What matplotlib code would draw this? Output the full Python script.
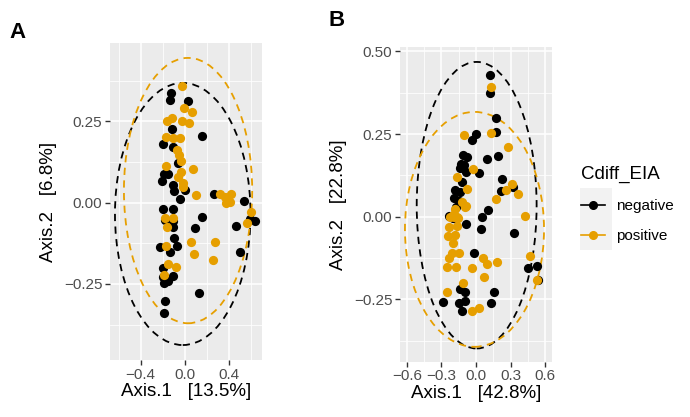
import matplotlib
matplotlib.use("Agg")
import matplotlib.pyplot as plt
from matplotlib.patches import Ellipse, Rectangle
from matplotlib.lines import Line2D
from matplotlib.ticker import FixedLocator

plt.rcParams['font.family'] = ['Liberation Sans', 'DejaVu Sans']

BLACK = "#000000"
ORANGE = "#E69F00"

# panel A (Axis.1 13.5%, Axis.2 6.8%)
a_neg_x = [-0.13, -0.135, 0.024, 0.15, -0.12, -0.196, -0.106, -0.06, -0.19, -0.15,
           -0.21, -0.106, -0.10, 0.0, -0.045, 0.26, 0.53, -0.196, -0.106, -0.18,
           -0.106, -0.106, 0.15, 0.09, 0.587, 0.63, 0.46, -0.10, -0.226, -0.07,
           -0.135, 0.496, -0.20, -0.106, -0.196, -0.15, -0.19, 0.13, -0.18, -0.19]
a_neg_y = [0.337, 0.316, 0.313, 0.205, 0.227, 0.18, 0.172, 0.121, 0.087, 0.087,
           0.067, 0.054, 0.036, 0.039, 0.011, 0.026, 0.005, -0.019, -0.019, -0.053,
           -0.058, -0.074, -0.043, -0.079, -0.05, -0.056, -0.071, -0.108, -0.138, -0.132,
           -0.153, -0.153, -0.2, -0.225, -0.23, -0.24, -0.248, -0.279, -0.302, -0.34]
a_pos_x = [-0.025, -0.01, 0.06, -0.165, -0.115, -0.03, 0.04, -0.17, -0.106, -0.045,
           -0.07, -0.05, -0.036, -0.17, 0.075, -0.04, -0.06, -0.015, -0.02, 0.10,
           0.316, 0.36, 0.42, 0.41, 0.37, -0.18, -0.106, -0.165, 0.596, 0.562,
           -0.17, 0.05, 0.08, 0.27, 0.256, -0.15, -0.08, -0.19]
a_pos_y = [0.36, 0.29, 0.278, 0.25, 0.26, 0.25, 0.246, 0.203, 0.198, 0.198,
           0.162, 0.147, 0.128, 0.114, 0.103, 0.095, 0.08, 0.06, 0.049, 0.022,
           0.026, 0.018, 0.026, 0.003, -0.002, -0.048, -0.046, -0.074, -0.03, -0.063,
           -0.132, -0.12, -0.158, -0.12, -0.176, -0.19, -0.197, -0.222]

# panel B (Axis.1 42.8%, Axis.2 22.8%)
b_neg_x = [0.121, 0.121, 0.173, 0.173, 0.0, -0.037, -0.11, -0.08, 0.093, 0.188,
           -0.13, -0.10, -0.139, -0.09, 0.029, -0.124, 0.228, 0.214, 0.324, -0.182,
           -0.139, -0.188, -0.145, -0.173, 0.107, -0.232, -0.197, 0.055, -0.087, 0.043,
           0.33, -0.017, 0.454, 0.526, 0.54, -0.139, -0.095, 0.159, -0.284, -0.145,
           -0.095, 0.127, -0.124]
b_neg_y = [0.428, 0.373, 0.299, 0.255, 0.251, 0.232, 0.188, 0.181, 0.176, 0.184,
           0.161, 0.156, 0.146, 0.134, 0.131, 0.106, 0.113, 0.079, 0.089, 0.081,
           0.076, 0.056, 0.048, 0.03, 0.02, 0.003, -0.005, -0.002, -0.023, -0.037,
           -0.05, -0.108, -0.154, -0.149, -0.191, -0.219, -0.228, -0.227, -0.257, -0.262,
           -0.255, -0.262, -0.285]
b_pos_x = [0.13, -0.101, 0.127, 0.28, -0.023, -0.162, -0.075, -0.124, -0.09, 0.31,
           0.367, 0.26, 0.173, 0.425, -0.197, -0.162, -0.182, -0.095, -0.225, -0.191,
           -0.153, -0.232, -0.167, -0.241, -0.182, -0.197, -0.21, -0.145, -0.232, -0.255,
           -0.173, -0.037, 0.058, 0.098, 0.185, 0.072, 0.468, 0.526, -0.109, -0.255,
           -0.037, 0.023]
b_pos_y = [0.393, 0.247, 0.252, 0.211, 0.144, 0.121, 0.084, 0.045, 0.033, 0.098,
           0.068, 0.081, 0.053, 0.002, 0.005, 0.0, 0.025, 0.03, 0.0, 0.0,
           -0.003, -0.03, -0.027, -0.057, -0.055, -0.08, -0.11, -0.11, -0.126, -0.151,
           -0.151, -0.154, -0.124, -0.144, -0.136, -0.181, -0.118, -0.191, -0.201, -0.228,
           -0.285, -0.277]

# 95% ellipses: (centre x, centre y, half width, half height)
a_neg_ell = (-0.02, -0.035, 0.612, 0.403)
a_pos_ell = (0.028, 0.037, 0.579, 0.408)
b_neg_ell = (0.006, 0.035, 0.52, 0.433)
b_pos_ell = (-0.013, -0.038, 0.603, 0.355)

fig = plt.figure(figsize=(6.9, 4.17), dpi=100)


def style_panel(ax, xlim, ylim, xmaj, xmin, ymaj, ymin):
    ax.set_facecolor("#EBEBEB")
    ax.set_xlim(xlim)
    ax.set_ylim(ylim)
    ax.xaxis.set_major_locator(FixedLocator(xmaj))
    ax.xaxis.set_minor_locator(FixedLocator(xmin))
    ax.yaxis.set_major_locator(FixedLocator(ymaj))
    ax.yaxis.set_minor_locator(FixedLocator(ymin))
    ax.grid(which="major", color="white", lw=1.1)
    ax.grid(which="minor", color="white", lw=0.55)
    ax.set_axisbelow(True)
    for s in ax.spines.values():
        s.set_visible(False)
    ax.tick_params(which="major", length=3.5, width=1.0, color="#333333",
                   labelsize=11, labelcolor="#4D4D4D", pad=2)
    ax.tick_params(which="minor", length=0)


def draw_panel(ax, neg_x, neg_y, pos_x, pos_y, neg_ell, pos_ell):
    for (cx, cy, w, h), col in [(neg_ell, BLACK), (pos_ell, ORANGE)]:
        ax.add_patch(Ellipse((cx, cy), 2 * w, 2 * h, fill=False, edgecolor=col,
                             lw=1.3, linestyle=(0, (4, 3))))
    ax.scatter(neg_x, neg_y, s=44, color=BLACK, linewidths=0, zorder=3)
    ax.scatter(pos_x, pos_y, s=44, color=ORANGE, linewidths=0, zorder=3)


# panel A
axA = fig.add_axes([0.1594, 0.1367, 0.2207, 0.7595])
style_panel(axA, (-0.677, 0.698), (-0.484, 0.49),
            [-0.4, 0.0, 0.4], [-0.6, -0.2, 0.2, 0.6],
            [-0.25, 0.0, 0.25], [-0.375, -0.125, 0.125, 0.375])
draw_panel(axA, a_neg_x, a_neg_y, a_pos_x, a_pos_y, a_neg_ell, a_pos_ell)
axA.set_xticklabels(["\u22120.4", "0.0", "0.4"])
axA.set_yticklabels(["\u22120.25", "0.00", "0.25"])
axA.set_xlabel("Axis.1   [13.5%]", fontsize=13.5, labelpad=1)
axA.set_ylabel("Axis.2   [6.8%]", fontsize=13.5, labelpad=5)

# panel B
axB = fig.add_axes([0.5797, 0.1326, 0.2199, 0.7554])
style_panel(axB, (-0.659, 0.657), (-0.438, 0.514),
            [-0.6, -0.3, 0.0, 0.3, 0.6], [-0.45, -0.15, 0.15, 0.45],
            [-0.25, 0.0, 0.25, 0.5], [-0.375, -0.125, 0.125, 0.375])
draw_panel(axB, b_neg_x, b_neg_y, b_pos_x, b_pos_y, b_neg_ell, b_pos_ell)
axB.set_xticklabels(["\u22120.6", "\u22120.3", "0.0", "0.3", "0.6"])
axB.set_yticklabels(["\u22120.25", "0.00", "0.25", "0.50"])
axB.set_xlabel("Axis.1   [42.8%]", fontsize=13.5, labelpad=1)
axB.set_ylabel("Axis.2   [22.8%]", fontsize=13.5, labelpad=5)

# panel tags
fig.text(9 / 690, 1 - 33 / 417, "A", fontsize=16, fontweight="bold", va="center")
fig.text(328 / 690, 1 - 20 / 417, "B", fontsize=16, fontweight="bold", va="center")

# legend
fig.patches.append(Rectangle((580 / 690, 1 - 250 / 417), 32 / 690, 62 / 417,
                             transform=fig.transFigure, facecolor="#F2F2F2",
                             edgecolor="none", zorder=0))
handles = [Line2D([], [], color=BLACK, marker="o", markersize=5.5, lw=1.2),
           Line2D([], [], color=ORANGE, marker="o", markersize=5.5, lw=1.2)]
fig.legend(handles, ["negative", "positive"], title="Cdiff_EIA",
           loc="upper left", bbox_to_anchor=(567 / 690, 1 - 152 / 417),
           frameon=False, fontsize=11, title_fontsize=13.5,
           handlelength=1.6, handletextpad=0.7, labelspacing=1.05,
           alignment="left")

fig.savefig("out.png", dpi=100)
